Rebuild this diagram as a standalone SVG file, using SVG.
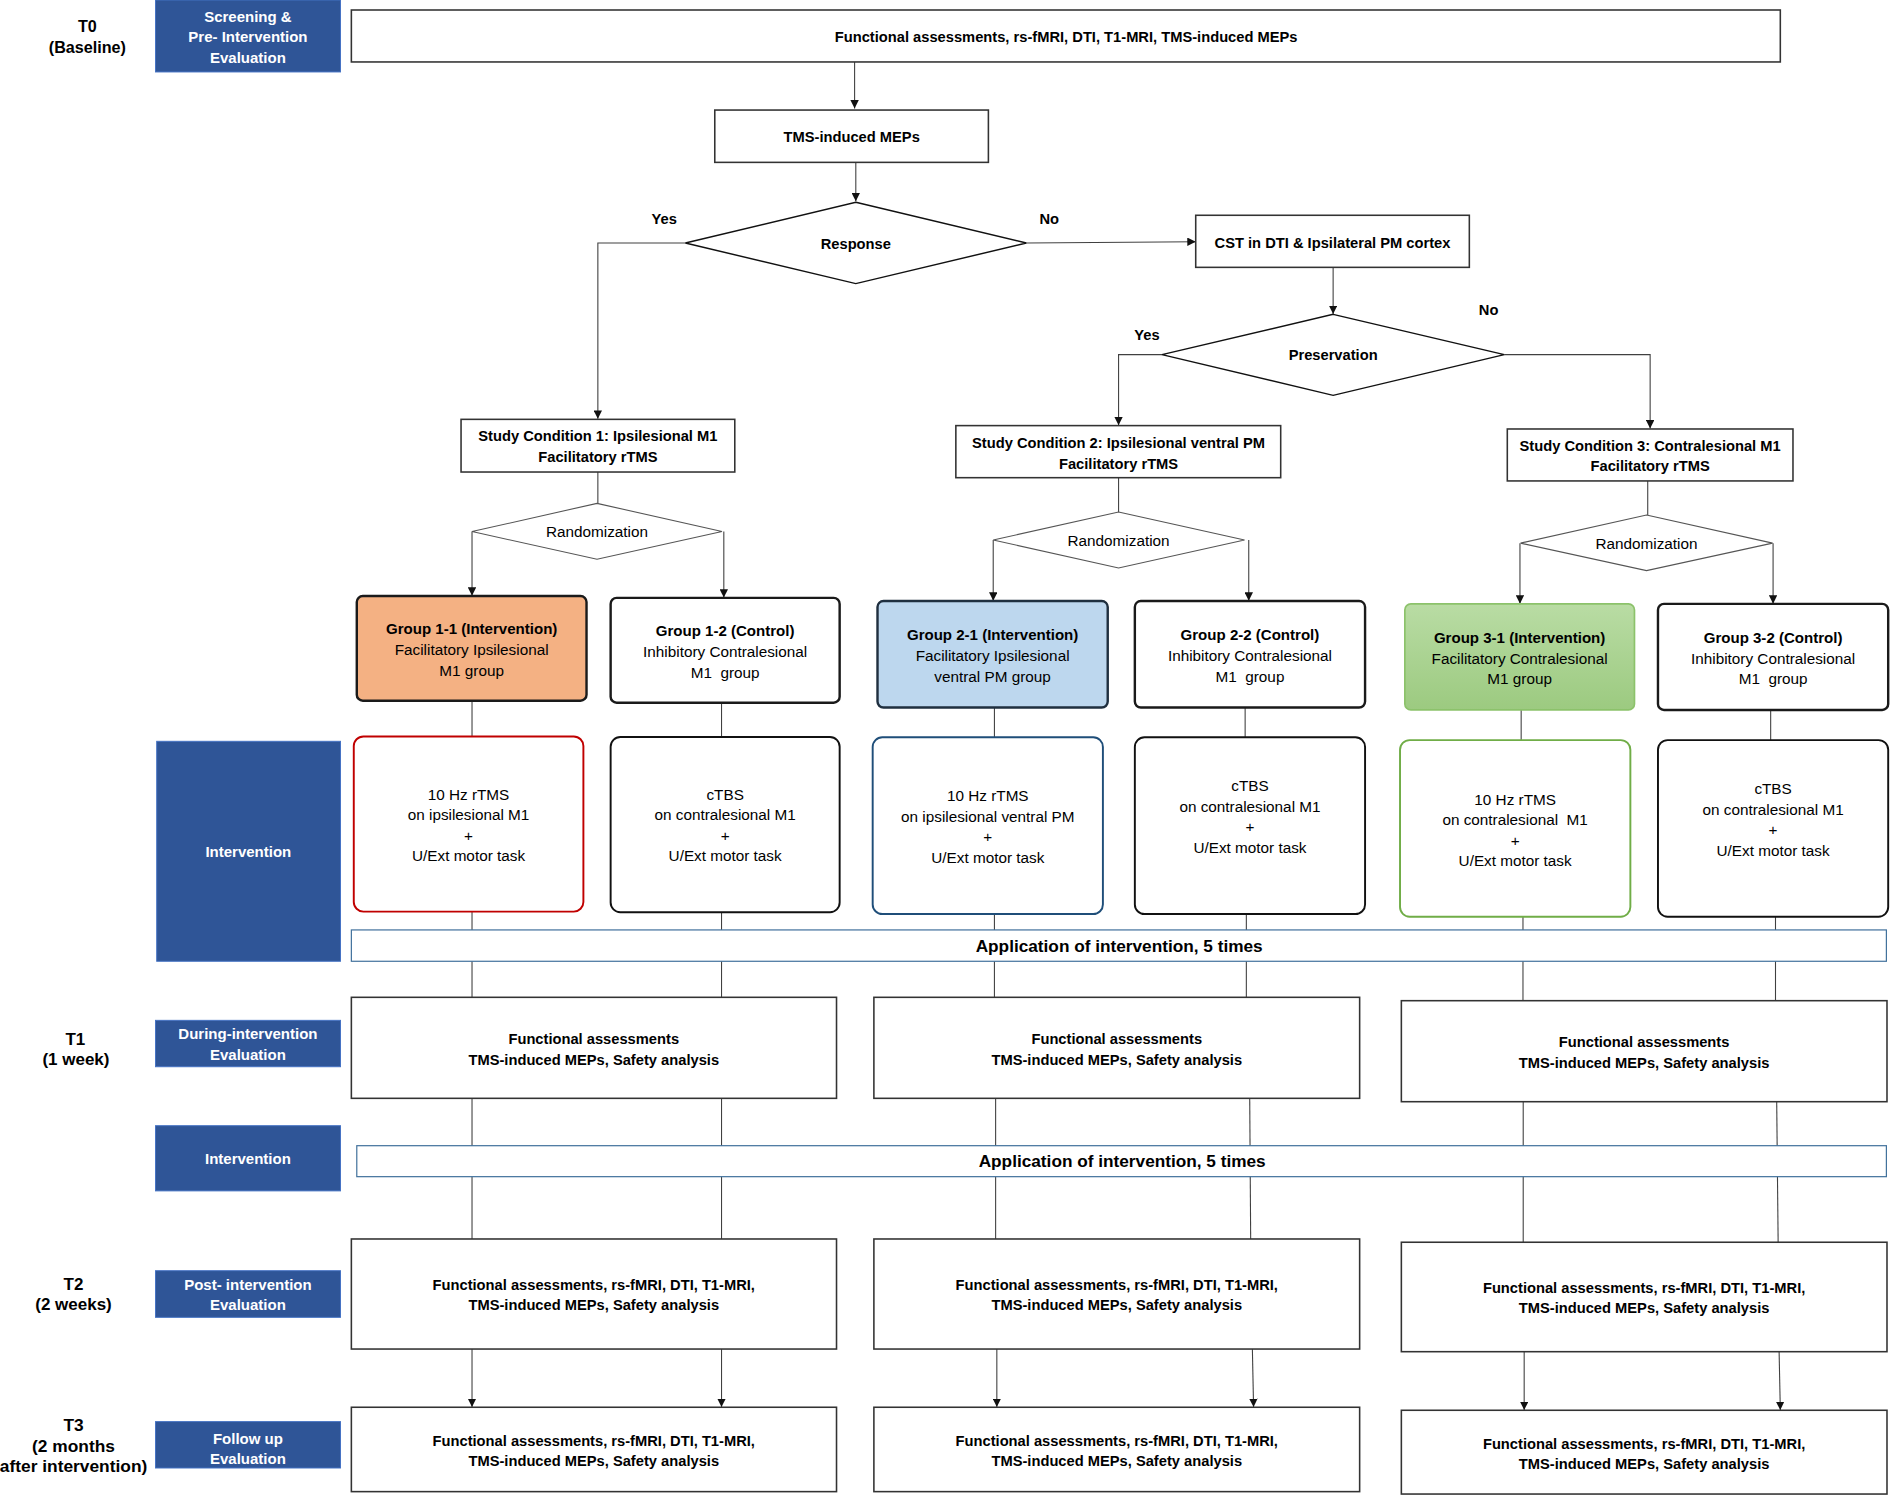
<svg xmlns="http://www.w3.org/2000/svg" width="1890" height="1495" viewBox="0 0 1890 1495">
<defs>
<style>
text{font-family:"Liberation Sans",Arial,sans-serif;text-anchor:middle;fill:#000}
.b{font-weight:bold;font-size:12.2px}
.g{font-weight:bold;font-size:12.5px}
.r{font-size:12.7px}
.w{font-weight:bold;font-size:12.45px;fill:#fff}
.lab{font-weight:bold;font-size:13.4px}
.lab2{font-weight:bold;font-size:14.1px}
.lab3{font-weight:bold;font-size:14.4px}
.app{font-weight:bold;font-size:14.3px}
.box{fill:#fff;stroke:#333;stroke-width:1.3}
.blue{fill:#2F5597;stroke:#4472C4;stroke-width:0.8}
.dia{fill:#fff;stroke:#111;stroke-width:1.2}
.rdia{fill:#fff;stroke:#555;stroke-width:0.9}
.gb{stroke:#1a1a1a;stroke-width:2}
.ib{fill:#fff;stroke-width:1.6}
.bar{fill:#fff;stroke:#41719C;stroke-width:1}
.c{fill:none;stroke:#404040;stroke-width:0.9}
</style>
<marker id="ah" markerUnits="userSpaceOnUse" markerWidth="8" markerHeight="7" refX="7" refY="3.5" orient="auto">
<path d="M0,0 L7,3.5 L0,7 z" fill="#111"/>
</marker>
<linearGradient id="grn" x1="0" y1="0" x2="0" y2="1">
<stop offset="0" stop-color="#B9DCA4"/>
<stop offset="1" stop-color="#9CCA80"/>
</linearGradient>
</defs>
<rect width="1890" height="1495" fill="#fff"/>
<g transform="scale(1.20536)">

<g id="connectors">
<path class="c" d="M709,51.4 V90" marker-end="url(#ah)"/>
<path class="c" d="M710,134.7 V167" marker-end="url(#ah)"/>
<path class="c" d="M568.6,201.6 H496 V347.5" marker-end="url(#ah)"/>
<path class="c" d="M851.5,201.6 L992,200.5" marker-end="url(#ah)"/>
<path class="c" d="M1106,221.8 V260.5" marker-end="url(#ah)"/>
<path class="c" d="M964,294.2 H928 V352.8" marker-end="url(#ah)"/>
<path class="c" d="M1248,294.2 H1369 V355.5" marker-end="url(#ah)"/>
<path class="c" d="M496,391.6 V417.6"/>
<path class="c" d="M928,396.3 V424.8"/>
<path class="c" d="M1367,399 V427.3"/>
<path class="c" d="M391.6,441 V494.3" marker-end="url(#ah)"/>
<path class="c" d="M600.5,441 V495.8" marker-end="url(#ah)"/>
<path class="c" d="M824,448 V498.4" marker-end="url(#ah)"/>
<path class="c" d="M1036,448 V498.4" marker-end="url(#ah)"/>
<path class="c" d="M1261,450.6 V500.8" marker-end="url(#ah)"/>
<path class="c" d="M1471,450.6 V500.8" marker-end="url(#ah)"/>
<path class="c" d="M391.6,581.3 V611"/>
<path class="c" d="M598.6,583 V611.5"/>
<path class="c" d="M825,587 V611.7"/>
<path class="c" d="M1033,587 V611.7"/>
<path class="c" d="M1262,589 V614"/>
<path class="c" d="M1469,589 V614"/>
<path class="c" d="M391.6,756.3 V827.4"/>
<path class="c" d="M598.6,756.8 V827.4"/>
<path class="c" d="M825,758.3 V827.4"/>
<path class="c" d="M1034,758.3 V827.4"/>
<path class="c" d="M1263.5,760.5 V830.2"/>
<path class="c" d="M1473,760.5 V830.2"/>
<path class="c" d="M391.6,911.2 V1027.9"/>
<path class="c" d="M598.6,911.2 V1027.9"/>
<path class="c" d="M826,911.2 V1027.9"/>
<path class="c" d="M1036.8,911.2 L1037.6,1027.9"/>
<path class="c" d="M1263.7,914 V1030.6"/>
<path class="c" d="M1474,914 L1475.2,1030.6"/>
<path class="c" d="M391.6,1119.2 V1167.3" marker-end="url(#ah)"/>
<path class="c" d="M598.6,1119.2 V1167.3" marker-end="url(#ah)"/>
<path class="c" d="M827,1119.2 V1167.3" marker-end="url(#ah)"/>
<path class="c" d="M1039,1119.2 L1040,1167.3" marker-end="url(#ah)"/>
<path class="c" d="M1264.5,1121.4 V1169.8" marker-end="url(#ah)"/>
<path class="c" d="M1476,1121.4 L1477,1169.8" marker-end="url(#ah)"/>
</g>

<g id="timeline-labels">
<text class="lab" x="72.5" y="26.9">T0</text>
<text class="lab" x="72.5" y="44.1">(Baseline)</text>
<text class="lab2" x="62.5" y="867">T1</text>
<text class="lab2" x="63" y="883.8">(1 week)</text>
<text class="lab2" x="61" y="1070">T2</text>
<text class="lab2" x="61" y="1087">(2 weeks)</text>
<text class="lab3" x="61" y="1187.3">T3</text>
<text class="lab3" x="61" y="1204.5">(2 months</text>
<text class="lab3" x="61" y="1221.1">after intervention)</text>
</g>

<g id="phase-screening">
<rect class="blue" x="129" y="0" width="153.5" height="59.7"/>
<text class="w" x="205.7" y="18">Screening &amp;</text>
<text class="w" x="205.7" y="34.8">Pre- Intervention</text>
<text class="w" x="205.7" y="52">Evaluation</text>
</g>
<g id="phase-intervention-1">
<rect class="blue" x="130" y="615" width="152.5" height="182.5"/>
<text class="w" x="206" y="710.9">Intervention</text>
</g>
<g id="phase-during">
<rect class="blue" x="129" y="846.5" width="153.5" height="38.5"/>
<text class="w" x="205.7" y="862.2">During-intervention</text>
<text class="w" x="205.7" y="879.3">Evaluation</text>
</g>
<g id="phase-intervention-2">
<rect class="blue" x="129" y="933.9" width="153.5" height="54.1"/>
<text class="w" x="205.7" y="965.9">Intervention</text>
</g>
<g id="phase-post">
<rect class="blue" x="129" y="1054.2" width="153.5" height="38.7"/>
<text class="w" x="205.7" y="1070.2">Post- intervention</text>
<text class="w" x="205.7" y="1087">Evaluation</text>
</g>
<g id="phase-follow">
<rect class="blue" x="129" y="1179.4" width="153.5" height="38.5"/>
<text class="w" x="205.7" y="1197.7">Follow up</text>
<text class="w" x="205.7" y="1214.6">Evaluation</text>
</g>

<g id="baseline">
<rect class="box" x="291.5" y="8.3" width="1185.5" height="43.1"/>
<text class="b" x="884.5" y="34.8">Functional assessments, rs-fMRI, DTI, T1-MRI, TMS-induced MEPs</text>
</g>
<g id="tms-meps">
<rect class="box" x="593" y="91.3" width="227" height="43.4"/>
<text class="b" x="706.6" y="117.8">TMS-induced MEPs</text>
</g>
<g id="response">
<polygon class="dia" points="710,167.8 851.5,201.6 710,235.3 568.6,201.6"/>
<text class="b" x="710" y="206.5">Response</text>
<text class="b" x="551" y="185.8">Yes</text>
<text class="b" x="870.5" y="185.8">No</text>
</g>
<g id="cst">
<rect class="box" x="992" y="178.6" width="227" height="43.2"/>
<text class="b" x="1105.5" y="205.4">CST in DTI &amp; Ipsilateral PM cortex</text>
</g>
<g id="preservation">
<polygon class="dia" points="1106,260.8 1248,294.2 1106,328 964,294.2"/>
<text class="b" x="1106" y="298.9">Preservation</text>
<text class="b" x="951.6" y="282.4">Yes</text>
<text class="b" x="1235" y="261.6">No</text>
</g>
<g id="condition-1">
<rect class="box" x="382.5" y="347.9" width="227.1" height="43.7"/>
<text class="b" x="496" y="366.1">Study Condition 1: Ipsilesional M1</text>
<text class="b" x="496" y="383.3">Facilitatory rTMS</text>
</g>
<g id="condition-2">
<rect class="box" x="793" y="353.1" width="269.5" height="43.2"/>
<text class="b" x="928" y="371.6">Study Condition 2: Ipsilesional ventral PM</text>
<text class="b" x="928" y="388.8">Facilitatory rTMS</text>
</g>
<g id="condition-3">
<rect class="box" x="1250.5" y="355.9" width="237" height="43.1"/>
<text class="b" x="1369" y="374.1">Study Condition 3: Contralesional M1</text>
<text class="b" x="1369" y="391">Facilitatory rTMS</text>
</g>
<g id="randomization-1">
<polygon class="rdia" points="495.3,417.6 599,441 495.3,464 391.6,441"/>
<text class="r" x="495.3" y="445.6">Randomization</text>
</g>
<g id="randomization-2">
<polygon class="rdia" points="928,424.8 1032.5,448 928,471.2 824,448"/>
<text class="r" x="928" y="452.6">Randomization</text>
</g>
<g id="randomization-3">
<polygon class="rdia" points="1366,427.3 1470.6,450.6 1366,473.4 1261.5,450.6"/>
<text class="r" x="1366" y="455.2">Randomization</text>
</g>

<g id="group-1-1">
<rect class="gb" x="296" y="494.5" width="190.6" height="86.8" rx="5" fill="#F4B183"/>
<text class="g" x="391.3" y="526.3">Group 1-1 (Intervention)</text>
<text class="r" x="391.3" y="543.6">Facilitatory Ipsilesional</text>
<text class="r" x="391.3" y="560.6">M1 group</text>
</g>
<g id="group-1-2">
<rect class="gb" x="506.6" y="496" width="190" height="87" rx="5" fill="#fff"/>
<text class="g" x="601.6" y="528">Group 1-2 (Control)</text>
<text class="r" x="601.6" y="544.9">Inhibitory Contralesional</text>
<text class="r" x="601.6" y="562.1" xml:space="preserve">M1  group</text>
</g>
<g id="group-2-1">
<rect x="728" y="498.6" width="191" height="88.4" rx="5" fill="#BDD7EE" stroke="#1F2F3F" stroke-width="2"/>
<text class="g" x="823.5" y="531.3">Group 2-1 (Intervention)</text>
<text class="r" x="823.5" y="548.3">Facilitatory Ipsilesional</text>
<text class="r" x="823.5" y="565.4">ventral PM group</text>
</g>
<g id="group-2-2">
<rect class="gb" x="941.5" y="498.6" width="191" height="88.4" rx="5" fill="#fff"/>
<text class="g" x="1037" y="531.3">Group 2-2 (Control)</text>
<text class="r" x="1037" y="548.3">Inhibitory Contralesional</text>
<text class="r" x="1037" y="565.4" xml:space="preserve">M1  group</text>
</g>
<g id="group-3-1">
<rect x="1165.5" y="501" width="190.5" height="88" rx="5" fill="url(#grn)" stroke="#8CC26B" stroke-width="1.4"/>
<text class="g" x="1260.7" y="533.5">Group 3-1 (Intervention)</text>
<text class="r" x="1260.7" y="550.6">Facilitatory Contralesional</text>
<text class="r" x="1260.7" y="567.6">M1 group</text>
</g>
<g id="group-3-2">
<rect class="gb" x="1375.5" y="501" width="191" height="88" rx="5" fill="#fff"/>
<text class="g" x="1471" y="533.5">Group 3-2 (Control)</text>
<text class="r" x="1471" y="550.6">Inhibitory Contralesional</text>
<text class="r" x="1471" y="567.6" xml:space="preserve">M1  group</text>
</g>

<g id="intervention-1-1">
<rect class="ib" x="293.5" y="611" width="190.5" height="145.3" rx="8" stroke="#C00000"/>
<text class="r" x="388.7" y="663.6">10 Hz rTMS</text>
<text class="r" x="388.7" y="680.6">on ipsilesional M1</text>
<text class="r" x="388.7" y="697.6">+</text>
<text class="r" x="388.7" y="714.6">U/Ext motor task</text>
</g>
<g id="intervention-1-2">
<rect class="ib" x="506.6" y="611.5" width="190" height="145.3" rx="8" stroke="#111" stroke-width="2"/>
<text class="r" x="601.6" y="663.6">cTBS</text>
<text class="r" x="601.6" y="680.6">on contralesional M1</text>
<text class="r" x="601.6" y="697.6">+</text>
<text class="r" x="601.6" y="714.6">U/Ext motor task</text>
</g>
<g id="intervention-2-1">
<rect class="ib" x="724" y="611.7" width="191" height="146.6" rx="8" stroke="#1F4E79"/>
<text class="r" x="819.5" y="664.6">10 Hz rTMS</text>
<text class="r" x="819.5" y="681.6">on ipsilesional ventral PM</text>
<text class="r" x="819.5" y="698.6">+</text>
<text class="r" x="819.5" y="715.6">U/Ext motor task</text>
</g>
<g id="intervention-2-2">
<rect class="ib" x="941.5" y="611.7" width="191" height="146.6" rx="8" stroke="#111" stroke-width="2"/>
<text class="r" x="1037" y="656.4">cTBS</text>
<text class="r" x="1037" y="673.3">on contralesional M1</text>
<text class="r" x="1037" y="690.4">+</text>
<text class="r" x="1037" y="707.3">U/Ext motor task</text>
</g>
<g id="intervention-3-1">
<rect class="ib" x="1161.5" y="614" width="191.1" height="146.5" rx="8" stroke="#70AD47" stroke-width="1.3"/>
<text class="r" x="1257" y="667.6">10 Hz rTMS</text>
<text class="r" x="1257" y="684.3" xml:space="preserve">on contralesional  M1</text>
<text class="r" x="1257" y="701.6">+</text>
<text class="r" x="1257" y="718.3">U/Ext motor task</text>
</g>
<g id="intervention-3-2">
<rect class="ib" x="1375.5" y="614" width="191" height="146.5" rx="8" stroke="#111" stroke-width="2"/>
<text class="r" x="1471" y="658.9">cTBS</text>
<text class="r" x="1471" y="676">on contralesional M1</text>
<text class="r" x="1471" y="692.9">+</text>
<text class="r" x="1471" y="709.8">U/Ext motor task</text>
</g>

<g id="application-1">
<rect class="bar" x="291.5" y="771.5" width="1273.5" height="26"/>
<text class="app" x="928.5" y="789.9">Application of intervention, 5 times</text>
</g>
<g id="t1-1">
<rect class="box" x="291.5" y="827.4" width="402.5" height="83.8"/>
<text class="b" x="492.6" y="866.4">Functional assessments</text>
<text class="b" x="492.6" y="883.2">TMS-induced MEPs, Safety analysis</text>
</g>
<g id="t1-2">
<rect class="box" x="725" y="827.4" width="403" height="83.8"/>
<text class="b" x="926.5" y="866.4">Functional assessments</text>
<text class="b" x="926.5" y="883.2">TMS-induced MEPs, Safety analysis</text>
</g>
<g id="t1-3">
<rect class="box" x="1162.6" y="830.2" width="402.9" height="83.8"/>
<text class="b" x="1364" y="868.8">Functional assessments</text>
<text class="b" x="1364" y="885.7">TMS-induced MEPs, Safety analysis</text>
</g>
<g id="application-2">
<rect class="bar" x="296" y="950.5" width="1269" height="25.7"/>
<text class="app" x="931" y="968.4">Application of intervention, 5 times</text>
</g>
<g id="t2-1">
<rect class="box" x="291.5" y="1027.9" width="402.5" height="91.3"/>
<text class="b" x="492.6" y="1070.2">Functional assessments, rs-fMRI, DTI, T1-MRI,</text>
<text class="b" x="492.6" y="1087">TMS-induced MEPs, Safety analysis</text>
</g>
<g id="t2-2">
<rect class="box" x="725" y="1027.9" width="403" height="91.3"/>
<text class="b" x="926.5" y="1070.2">Functional assessments, rs-fMRI, DTI, T1-MRI,</text>
<text class="b" x="926.5" y="1087">TMS-induced MEPs, Safety analysis</text>
</g>
<g id="t2-3">
<rect class="box" x="1162.6" y="1030.6" width="402.9" height="90.8"/>
<text class="b" x="1364" y="1072.9">Functional assessments, rs-fMRI, DTI, T1-MRI,</text>
<text class="b" x="1364" y="1089.7">TMS-induced MEPs, Safety analysis</text>
</g>
<g id="t3-1">
<rect class="box" x="291.5" y="1167.5" width="402.5" height="70"/>
<text class="b" x="492.6" y="1199.3">Functional assessments, rs-fMRI, DTI, T1-MRI,</text>
<text class="b" x="492.6" y="1215.9">TMS-induced MEPs, Safety analysis</text>
</g>
<g id="t3-2">
<rect class="box" x="725" y="1167.5" width="403" height="70"/>
<text class="b" x="926.5" y="1199.3">Functional assessments, rs-fMRI, DTI, T1-MRI,</text>
<text class="b" x="926.5" y="1215.9">TMS-induced MEPs, Safety analysis</text>
</g>
<g id="t3-3">
<rect class="box" x="1162.6" y="1170" width="402.9" height="69.5"/>
<text class="b" x="1364" y="1201.8">Functional assessments, rs-fMRI, DTI, T1-MRI,</text>
<text class="b" x="1364" y="1218.4">TMS-induced MEPs, Safety analysis</text>
</g>
</g>
</svg>
